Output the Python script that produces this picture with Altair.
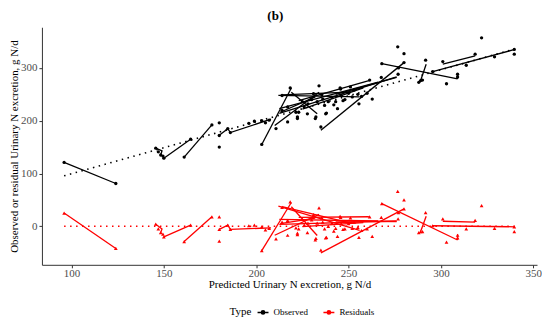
import altair as alt
import pandas as pd

# ---- data ----
pred_x = [96, 124, 145.6, 147, 148.3, 150, 149.5, 164.5, 161, 176,
          180, 180, 180, 184.6, 186, 196, 199, 203, 205, 207,
          203, 210.7, 214, 217, 217, 218.4, 222.3, 223, 227.7, 232.3,
          238, 244, 235, 231, 234, 235.5, 245.7, 214, 221.5, 222.3,
          232, 237.6, 255.6, 262.8, 261.4, 267.7, 245.4, 276.8, 277, 276.6,
          280, 280, 289, 290, 288, 291.7, 301, 303, 309, 309,
          313.7, 318.5, 322, 329, 339.7, 339.7, 295.5, 268, 225, 228,
          230, 233, 236, 239, 241, 243, 246, 248, 250, 252,
          255, 257, 260, 226, 237, 242, 247, 253, 251]
observed = [121, 81, 148, 141, 135, 129, 133, 165, 131, 192,
            196, 150, 172, 185, 177.5, 195, 199, 200, 196, 201,
            155, 185, 219.5, 226, 197.6, 262, 207, 216, 213, 207,
            214.5, 222.7, 188, 251, 266, 249, 260, 247.7, 216, 204,
            204, 213, 232, 241, 277, 282, 262, 288, 300, 340,
            327, 310, 276, 277, 272.6, 314.6, 312, 270, 288, 283,
            305, 326, 357, 321, 326, 335, 293, 308, 236, 232,
            240, 236, 241, 236, 244, 236, 248, 240, 252, 245,
            250, 246, 252, 226, 229, 230, 238, 258, 264]
residual = [25, -42, 4, -5, -12, -20, -15, 2, -29, 18,
            18, -28, -6, 2, -6, 1, 2, -1, -7, -4,
            -46, -24, 8, 11, -17, 46, -13, -5, -12, -23,
            -21, -19, -45, 22, 35, 16, 17, 36, -3, -16,
            -26, -22, -21, -19, 18, 17, 19, 14, 26, 66,
            50, 33, -10, -10, -12, 26, 14, -30, -17, -22,
            -5, 11, 39, -4, -10, -1, 1, 43, 13, 6,
            12, 6, 8, 0, 6, -4, 5, -5, 5, -4,
            -2, -8, -5, 2, -5, -9, -6, 8, 16]

# within-study lines (vertices)
seg_id = [1, 1, 2, 2, 3, 3, 3, 4, 4, 5, 5, 5, 5, 6, 6, 7, 7, 8, 8, 9, 9,
          10, 10, 11, 11, 12, 12, 13, 13, 14, 14, 15, 15, 16, 16, 17, 17,
          18, 18, 19, 19, 20, 20, 21, 21, 22, 22]
seg_x = [96, 124, 150, 164.5, 145.6, 149, 148.3, 161, 176, 180, 184.6, 186, 208,
         203, 219, 214, 250, 235, 280, 268, 309, 289, 292, 295.5, 340,
         301, 318.5, 309, 309, 212, 256, 213, 232, 223, 261, 219, 233,
         225, 258, 243, 276, 210, 234, 212.5, 276, 212.5, 266]
seg_obs = [121, 81, 129, 165, 148, 143, 135, 131, 192, 172.6, 185, 177.5, 203,
           155, 262, 249, 254, 182, 310, 308, 279, 276, 307, 293, 335,
           307, 323, 279, 290, 248, 245, 216, 245, 238, 276, 254, 213,
           222, 262, 250, 282, 191, 254, 214, 283, 223, 273]
seg_res = [25, -42, -20, 2, 4, -5, -12, -29, 18, -6, 2, -6, -3,
           -46, 45, 37, 7, -50.5, 33, 43, -26, -10, 19, 1, -1,
           9.5, 8, -26, -15, 38, -8, 5, 15.5, 17, 18, 37, -17.5,
           -0.6, 7, 9.6, 9, -17, 22.5, 3.7, 10, 13, 10]

# overall fitted line and zero line
fit_x = [96, 340]
fit_obs = [95.6, 335.9]
fit_res = [0, 0]

types = ["Observed", "Residuals"]
colors = ["#000000", "#FF0000"]

n = len(pred_x)
pts = pd.DataFrame({
    "x": pred_x + pred_x,
    "y": observed + residual,
    "Type": [types[0]] * n + [types[1]] * n,
})
m = len(seg_x)
segs = pd.DataFrame({
    "g": [f"o{g}" for g in seg_id] + [f"r{g}" for g in seg_id],
    "x": seg_x + seg_x,
    "y": seg_obs + seg_res,
    "ord": list(range(m)) + list(range(m)),
    "Type": [types[0]] * m + [types[1]] * m,
})
fit = pd.DataFrame({
    "g": ["fo", "fo", "fr", "fr"],
    "x": fit_x + fit_x,
    "y": fit_obs + fit_res,
    "Type": [types[0]] * 2 + [types[1]] * 2,
})

FONT = "Liberation Serif"
W, H = 496, 238
xs = alt.Scale(domain=[84, 352], nice=False, zero=False)
ys = alt.Scale(domain=[-73, 377], nice=False, zero=False)
xax = alt.Axis(values=[100, 150, 200, 250, 300, 350], title="Predicted Urinary N excretion, g N/d",
               labelPadding=0, titlePadding=0)
yax = alt.Axis(values=[0, 100, 200, 300], title="Observed or residual Urinary N excretion, g N/d",
               labelPadding=2, titleX=-22, titleY=H / 2, titleBaseline="bottom", titleAlign="center")
cscale = alt.Scale(domain=types, range=colors)
leg = alt.Legend(title="Type", orient="none", direction="horizontal", titleOrient="left",
                 legendX=188, legendY=H + 41,
                 symbolType="M-1,0H1M-0.3,0A0.3,0.3,0,1,1,0.3,0A0.3,0.3,0,1,1,-0.3,0Z",
                 symbolSize=120, symbolStrokeWidth=1.5, symbolOffset=0)
C = alt.Color("Type:N", scale=cscale, legend=leg)

X = alt.X("x:Q", scale=xs, axis=xax)
Y = alt.Y("y:Q", scale=ys, axis=yax)

dotted = alt.Chart(fit).mark_line(strokeDash=[1.5, 4.5], strokeWidth=1.6).encode(
    x=X, y=Y, detail="g:N", color=C,
)
lines = alt.Chart(segs).mark_line(strokeWidth=1.3).encode(
    x=X, y=Y, detail="g:N", order="ord:Q", color=C,
)
obs_pts = alt.Chart(pts).transform_filter(alt.datum.Type == types[0]).mark_point(
    filled=True, opacity=1, size=11, shape="circle").encode(x=X, y=Y, color=C)
res_pts = alt.Chart(pts).transform_filter(alt.datum.Type == types[1]).mark_point(
    filled=True, opacity=1, size=14, shape="triangle-up").encode(x=X, y=Y, color=C)

chart = alt.layer(lines, dotted, obs_pts, res_pts).properties(
    width=W, height=H, padding={"top": 2, "left": 0, "right": 0, "bottom": 0},
    title=alt.TitleParams("(b)", fontSize=13, font=FONT, fontWeight="bold", offset=4,
                          color="black", frame="bounds", anchor="middle"),
).configure_view(stroke=None).configure_axis(
    grid=False, domainColor="#333333", tickColor="#333333", tickSize=3,
    labelFont=FONT, labelFontSize=11, labelColor="#4D4D4D",
    titleFont=FONT, titleFontSize=11, titleFontWeight="normal", titleColor="black",
).configure_legend(
    titleFont=FONT, titleFontSize=11, titleFontWeight="normal", titleColor="black",
    labelFont=FONT, labelFontSize=9, labelColor="black", columnPadding=12,
)

chart.save("out.html", embed_options={"renderer": "svg", "actions": False})
